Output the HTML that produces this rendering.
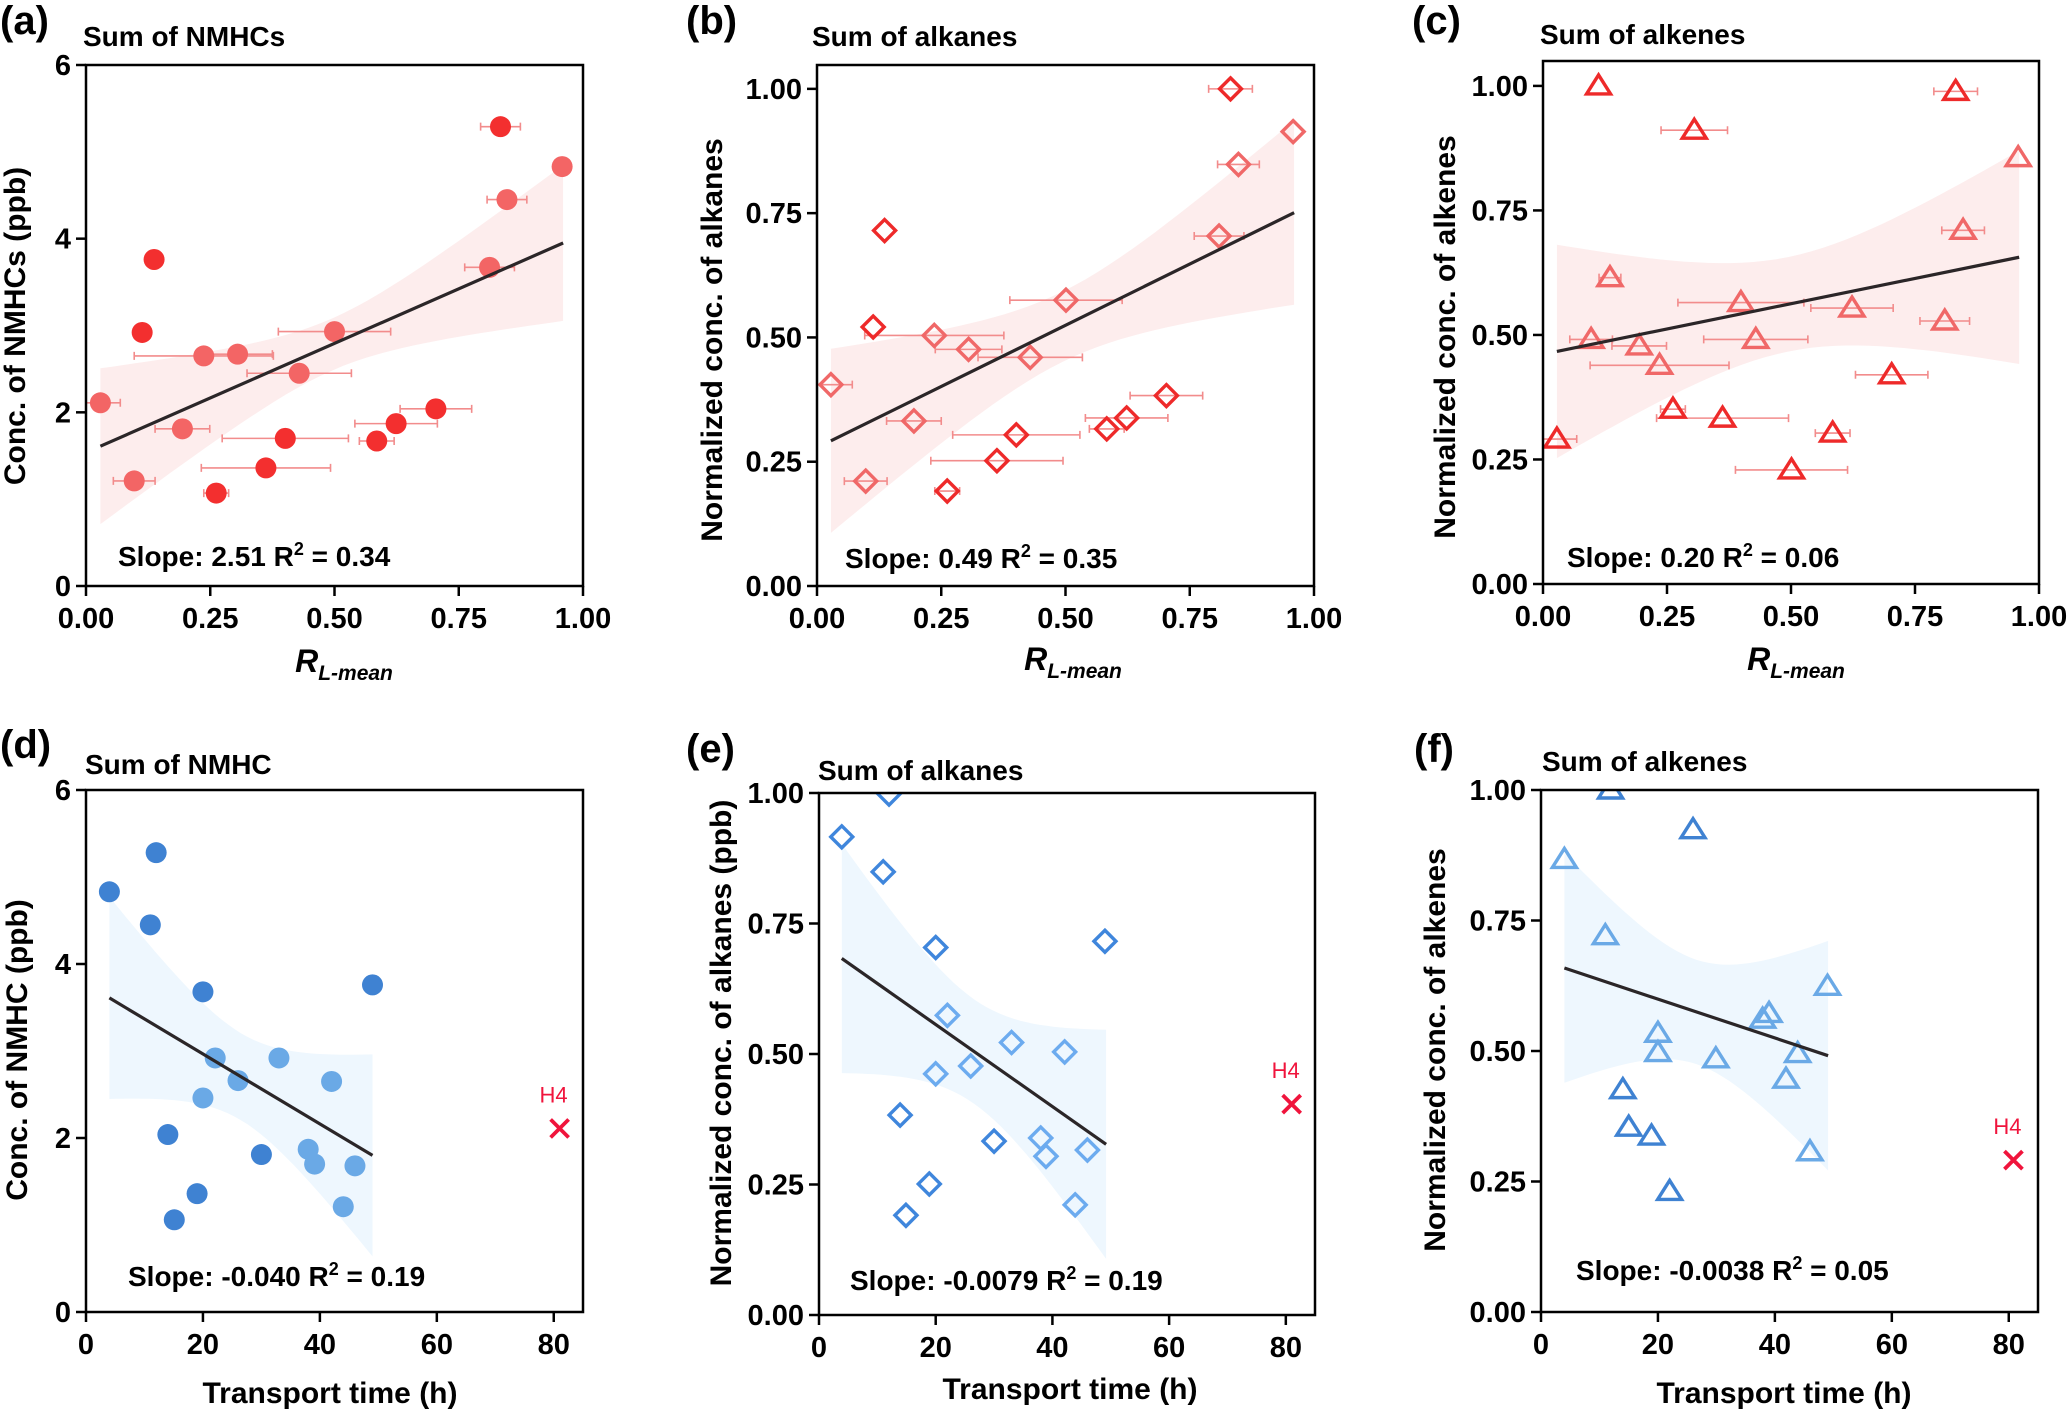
<!DOCTYPE html>
<html><head><meta charset="utf-8">
<style>
html,body{margin:0;padding:0;background:#fff;}
svg{display:block;font-family:"Liberation Sans",Arial,sans-serif;}
text{font-weight:bold;fill:#000;}
</style></head>
<body>
<svg id="fig" width="2067" height="1411" viewBox="0 0 2067 1411" xmlns="http://www.w3.org/2000/svg"></svg>
<script>
// ---------- Panel (a) data ----------
const aX=[0.029,0.097,0.113,0.137,0.194,0.237,0.305,0.262,0.362,0.401,0.429,0.500,0.585,0.624,0.704,0.812,0.834,0.847,0.958];
const aY=[2.11,1.21,2.92,3.76,1.81,2.65,2.67,1.07,1.36,1.70,2.45,2.93,1.67,1.87,2.04,3.67,5.29,4.45,4.83];
const aErr=[0.04,0.042,0,0,0.055,0.14,0.07,0.025,0.13,0.127,0.105,0.113,0.035,0.083,0.072,0.05,0.04,0.04,0];
const aDark=[0,0,1,1,0,0,0,1,1,1,0,0,1,1,1,0,1,0,0];
const aFitX=[0.029,0.96];
const aFitY=[1.61,3.95];
// ---------- Panel (b) data ----------
const bX=[0.028,0.098,0.113,0.136,0.195,0.236,0.262,0.305,0.362,0.401,0.429,0.501,0.583,0.623,0.703,0.809,0.832,0.848,0.958];
const bY=[0.405,0.211,0.521,0.715,0.332,0.504,0.191,0.476,0.252,0.304,0.460,0.575,0.316,0.338,0.383,0.704,1.00,0.848,0.914];
const bErr=[0.043,0.043,0,0,0.055,0.14,0.025,0.067,0.133,0.128,0.105,0.113,0.035,0.083,0.073,0.05,0.044,0.042,0];
const bDark=[0,0,1,1,0,0,1,0,1,1,0,0,1,1,1,0,1,0,0];
const bFitX=[0.028,0.96];
const bFitY=[0.292,0.751];
// ---------- Panel (c) data ----------
const cX=[0.028,0.097,0.112,0.135,0.194,0.235,0.262,0.305,0.362,0.399,0.429,0.501,0.584,0.623,0.703,0.810,0.832,0.847,0.958];
const cY=[0.291,0.491,1.00,0.615,0.478,0.439,0.351,0.911,0.333,0.565,0.491,0.229,0.303,0.554,0.420,0.528,0.989,0.710,0.856];
const cErr=[0.04,0.043,0,0.022,0.055,0.14,0.025,0.067,0.133,0.127,0.105,0.113,0.035,0.083,0.073,0.05,0.044,0.043,0];
const cDark=[1,0,1,0,0,0,1,1,1,0,0,1,1,0,1,0,1,0,0];
const cFitX=[0.028,0.96];
const cFitY=[0.467,0.656];
// ---------- Panel (d) data ----------
const dX=[4.0,12.0,11.0,20.0,49.0,22.1,33.0,26.0,20.0,42.0,14.0,30.0,38.0,39.1,46.0,44.0,19.0,15.1];
const dY=[4.83,5.28,4.45,3.68,3.76,2.92,2.92,2.66,2.46,2.65,2.04,1.81,1.87,1.70,1.68,1.21,1.36,1.06];
const dDark=[1,1,1,1,1,0,0,0,0,0,1,1,0,0,0,0,1,1];
const dFitX=[4,49];
const dFitY=[3.61,1.80];
const dOutlier=[81,2.11];
// ---------- Panel (e) data ----------
const eX=[3.9,12.0,11.0,20.0,49.0,22.0,33.0,26.0,20.0,42.1,13.9,30.0,38.0,38.9,46.0,43.9,18.9,14.9];
const eY=[0.916,0.998,0.849,0.704,0.716,0.574,0.522,0.477,0.462,0.504,0.383,0.333,0.339,0.304,0.316,0.211,0.251,0.191];
const eDark=[1,1,1,1,1,0,0,0,0,0,1,1,0,0,0,0,1,1];
const eFitX=[3.9,49.2];
const eFitY=[0.683,0.327];
const eOutlier=[81,0.404];
// ---------- Panel (f) data ----------
const fX=[4.0,11.9,26.0,11.0,49.0,39.0,37.9,20.0,20.0,29.9,43.9,41.9,14.0,15.0,18.9,22.0,46.0];
const fY=[0.867,1.00,0.924,0.721,0.624,0.572,0.561,0.534,0.497,0.485,0.495,0.446,0.426,0.354,0.337,0.231,0.307];
const fDark=[0,1,1,0,0,0,0,0,0,0,0,0,1,1,1,1,0];
const fFitX=[4.0,49.1];
const fFitY=[0.659,0.491];
const fOutlier=[80.8,0.291];
// tick labels
const rTicks=[0,0.25,0.5,0.75,1.0];
const rTickLabels=["0.00","0.25","0.50","0.75","1.00"];
const tTicks=[0,20,40,60,80];
const tTickLabels=["0","20","40","60","80"];
const concTicks=[0,2,4,6];
const concTickLabels=["0","2","4","6"];
const normTicks=[0,0.25,0.5,0.75,1.0];
const normTickLabels=["0.00","0.25","0.50","0.75","1.00"];

const NS="http://www.w3.org/2000/svg";
const svg=document.getElementById('fig');
function mk(tag,attrs,parent){const e=document.createElementNS(NS,tag);for(const k in attrs)e.setAttribute(k,attrs[k]);(parent||svg).appendChild(e);return e;}

function panel(cfg){
  const g=mk('g',{});
  
  
  const [L,R,T,B]=cfg.box;
  const sx=v=>L+(v-cfg.xd[0])/(cfg.xd[1]-cfg.xd[0])*(R-L);
  const sy=v=>B-(v-cfg.yd[0])/(cfg.yd[1]-cfg.yd[0])*(B-T);
  const clip=mk('clipPath',{id:'clip'+cfg.id},g);
  mk('rect',{x:L,y:T,width:R-L,height:B-T},clip);
  const plot=mk('g',{'clip-path':'url(#clip'+cfg.id+')'},g);
  const xm=(cfg.fitX[0]+cfg.fitX[1])/2;
  const slope=(cfg.fitY[1]-cfg.fitY[0])/(cfg.fitX[1]-cfg.fitX[0]);
  const up=[],lo=[];
  for(let i=0;i<=40;i++){
    const x=cfg.fitX[0]+(cfg.fitX[1]-cfg.fitX[0])*i/40;
    const y=cfg.fitY[0]+slope*(x-cfg.fitX[0]);
    const hw=Math.sqrt(cfg.band[0]+cfg.band[1]*(x-xm)*(x-xm));
    up.push(sx(x).toFixed(1)+','+sy(y+hw).toFixed(1));
    lo.unshift(sx(x).toFixed(1)+','+sy(y-hw).toFixed(1));
  }
  const band=mk('polygon',{points:up.concat(lo).join(' '),fill:cfg.bandColor},plot);
  
  
  if(cfg.err){
    for(let i=0;i<cfg.x.length;i++){
      const e=cfg.err[i]; if(!e) continue;
      const y=sy(cfg.y[i]),x1=sx(cfg.x[i]-e),x2=sx(cfg.x[i]+e);
      const eb=mk('path',{d:`M${x1},${y}H${x2}M${x1},${y-4}V${y+4}M${x2},${y-4}V${y+4}`,stroke:'#f28c8c','stroke-width':1.6,fill:'none'},plot);
      
      
    }
  }
  for(let i=0;i<cfg.x.length;i++){
    const cx=sx(cfg.x[i]),cy=sy(cfg.y[i]);
    const col=cfg.dark[i]?cfg.c1:cfg.c2;
    let m;
    if(cfg.marker==='circle') m=mk('circle',{cx,cy,r:10.5,fill:col},plot);
    else if(cfg.marker==='diamond') m=mk('polygon',{points:`${cx},${cy-11} ${cx+11},${cy} ${cx},${cy+11} ${cx-11},${cy}`,fill:'none',stroke:col,'stroke-width':3.4},plot);
    else m=mk('polygon',{points:`${cx},${cy-11} ${cx+12},${cy+8} ${cx-12},${cy+8}`,fill:'none',stroke:col,'stroke-width':3.4,'stroke-linejoin':'miter'},plot);
    
    
  }
  const fl=mk('line',{x1:sx(cfg.fitX[0]),y1:sy(cfg.fitY[0]),x2:sx(cfg.fitX[1]),y2:sy(cfg.fitY[1]),stroke:'#2b2628','stroke-width':3.2},plot);
  
  
  if(cfg.outlier){
    const ox=sx(cfg.outlier[0]),oy=sy(cfg.outlier[1]);
    const om=mk('path',{d:`M${ox-9},${oy-9}L${ox+9},${oy+9}M${ox+9},${oy-9}L${ox-9},${oy+9}`,stroke:'#f0143c','stroke-width':3.8},g);
    
    
    const ol=mk('text',{x:ox-6,y:oy-26,'font-size':22,'text-anchor':'middle',style:'fill:#f0143c;font-weight:normal'},g);
    ol.textContent='H4';
    
    
  }
  const fr=mk('rect',{x:L,y:T,width:R-L,height:B-T,fill:'none',stroke:'#000','stroke-width':2.5},g);
  
  
  cfg.xt.forEach((v,i)=>{
    const x=sx(v);
    const t=mk('line',{x1:x,y1:B,x2:x,y2:B+10,stroke:'#000','stroke-width':2.5},g);
    
    
    const tl=mk('text',{x:x,y:B+42,'font-size':29,'text-anchor':'middle'},g);
    tl.textContent=cfg.xtl[i];
    
    
  });
  cfg.yt.forEach((v,i)=>{
    const y=sy(v);
    const t=mk('line',{x1:L-10,y1:y,x2:L,y2:y,stroke:'#000','stroke-width':2.5},g);
    
    
    const tl=mk('text',{x:L-15,y:y+10,'font-size':29,'text-anchor':'end'},g);
    tl.textContent=cfg.ytl[i];
    
    
  });
  const pl=mk('text',{x:cfg.lab[0],y:cfg.lab[1],'font-size':40},g);
  pl.textContent='('+cfg.id+')';
  
  
  const ti=mk('text',{x:cfg.title[0],y:cfg.title[1],'font-size':28},g);
  ti.textContent=cfg.titleText;
  
  
  const st=mk('text',{x:cfg.slope[0],y:cfg.slope[1],'font-size':28},g);
  st.innerHTML=cfg.slopeText[0]+'<tspan dy="-11" font-size="18">2</tspan><tspan dy="11"> '+cfg.slopeText[1]+'</tspan>';
  
  
  const yt=mk('text',{x:0,y:0,'font-size':30,'text-anchor':'middle',transform:`translate(${cfg.ytitle[0]},${cfg.ytitle[1]}) rotate(-90)`},g);
  yt.textContent=cfg.ytitleText;
  
  
  const xt=mk('text',{x:cfg.xtitle[0],y:cfg.xtitle[1],'font-size':30,'text-anchor':'middle'},g);
  if(cfg.rlabel) xt.innerHTML='<tspan font-style="italic" font-size="32">R</tspan><tspan font-style="italic" font-size="21" dy="8">L-mean</tspan>';
  else xt.textContent='Transport time (h)';
  
  
}
const redBand='#fdeded', blueBand='#eef7fe';
panel({id:'a',box:[86,583,65,586],xd:[0,1],yd:[0,6],x:aX,y:aY,err:aErr,dark:aDark,fitX:aFitX,fitY:aFitY,band:[0.09,3.3],bandColor:redBand,marker:'circle',c1:'#f32f2f',c2:'#f36565',xt:rTicks,xtl:rTickLabels,yt:concTicks,ytl:concTickLabels,lab:[0,34],title:[83,46],titleText:'Sum of NMHCs',slope:[118,566],slopeText:['Slope: 2.51 R','= 0.34'],ytitle:[25,326],ytitleText:'Conc. of NMHCs (ppb)',xtitle:[344,672],rlabel:true});
panel({id:'b',box:[817,1314,65,586],xd:[0,1],yd:[0,1.048],x:bX,y:bY,err:bErr,dark:bDark,fitX:bFitX,fitY:bFitY,band:[0.005,0.135],bandColor:redBand,marker:'diamond',c1:'#ee2a2a',c2:'#f06868',xt:rTicks,xtl:rTickLabels,yt:normTicks,ytl:normTickLabels,lab:[686,34],title:[812,46],titleText:'Sum of alkanes',slope:[845,568],slopeText:['Slope: 0.49 R','= 0.35'],ytitle:[722,340],ytitleText:'Normalized conc. of alkanes',xtitle:[1073,670],rlabel:true});
panel({id:'c',box:[1543,2039,61,584],xd:[0,1],yd:[0,1.05],x:cX,y:cY,err:cErr,dark:cDark,fitX:cFitX,fitY:cFitY,band:[0.009,0.17],bandColor:redBand,marker:'triangle',c1:'#ee2a2a',c2:'#f06868',xt:rTicks,xtl:rTickLabels,yt:normTicks,ytl:normTickLabels,lab:[1412,34],title:[1540,44],titleText:'Sum of alkenes',slope:[1567,567],slopeText:['Slope: 0.20 R','= 0.06'],ytitle:[1455,337],ytitleText:'Normalized conc. of alkenes',xtitle:[1796,670],rlabel:true});
panel({id:'d',box:[86,583,790,1312],xd:[0,85],yd:[0,6],x:dX,y:dY,dark:dDark,fitX:dFitX,fitY:dFitY,band:[0.25,0.00217],bandColor:blueBand,marker:'circle',c1:'#3f82d2',c2:'#6aa9e6',outlier:dOutlier,xt:tTicks,xtl:tTickLabels,yt:concTicks,ytl:concTickLabels,lab:[0,758],title:[85,774],titleText:'Sum of NMHC',slope:[128,1286],slopeText:['Slope: -0.040 R','= 0.19'],ytitle:[27,1050],ytitleText:'Conc. of NMHC (ppb)',xtitle:[330,1403]});
panel({id:'e',box:[819,1315,793,1315],xd:[0,85],yd:[0,1],x:eX,y:eY,dark:eDark,fitX:eFitX,fitY:eFitY,band:[0.01,0.0000745],bandColor:blueBand,marker:'diamond',c1:'#3f86dc',c2:'#6cabef',outlier:eOutlier,xt:tTicks,xtl:tTickLabels,yt:normTicks,ytl:normTickLabels,lab:[686,762],title:[818,780],titleText:'Sum of alkanes',slope:[850,1290],slopeText:['Slope: -0.0079 R','= 0.19'],ytitle:[731,1043],ytitleText:'Normalized conc. of alkanes (ppb)',xtitle:[1070,1399]});
panel({id:'f',box:[1541,2038,790,1312],xd:[0,85],yd:[0,1],x:fX,y:fY,dark:fDark,fitX:fFitX,fitY:fFitY,band:[0.01,0.0000755],bandColor:blueBand,marker:'triangle',c1:'#3f82d2',c2:'#6aa9e6',outlier:fOutlier,xt:tTicks,xtl:tTickLabels,yt:normTicks,ytl:normTickLabels,lab:[1414,762],title:[1542,771],titleText:'Sum of alkenes',slope:[1576,1280],slopeText:['Slope: -0.0038 R','= 0.05'],ytitle:[1445,1050],ytitleText:'Normalized conc. of alkenes',xtitle:[1784,1403]});
</script>
</body></html>
